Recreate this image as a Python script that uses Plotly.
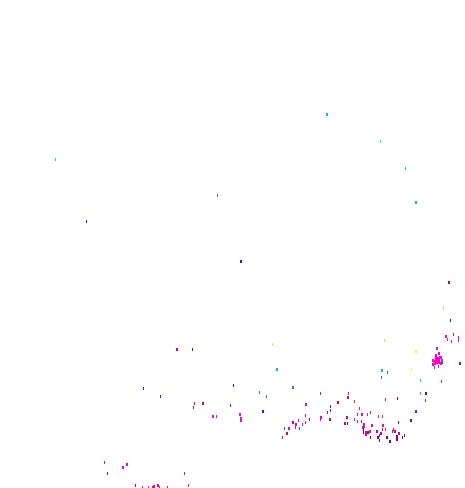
import plotly.graph_objects as go

# marks, grouped by colour: dots are the small blocks,
# ticks the thin upright ones
pink_x = [306, 321, 364, 364, 289, 362, 372, 383, 366, 370, 296, 127, 123, 154, 153, 158, 347]
pink_y = [404, 417, 424, 426, 428, 414, 425, 425, 432, 431, 424, 464, 467, 486, 487, 485, 417]
pink_tick_x = [320.5, 348.5, 354.5, 359.5, 370.5, 357.5, 367.5, 305.5, 320.5, 354.5, 298.5, 357.5, 305.5, 302.5, 385.5, 284.5, 299.5, 382.5, 385.5, 295.5, 282.5, 425.5, 104.5, 184.5, 142.5, 148.5, 159.5, 167.5, 188.5, 362.5]
pink_tick_y = [393, 393, 401, 408, 412, 414, 414, 415, 419, 419, 420, 421, 422, 424, 399, 428, 428, 429, 429, 427, 437, 400, 462, 473, 487, 487, 487, 487, 485, 427]

# the dense knot on the right edge
knot_x = [437, 439, 441, 436, 433, 435, 437, 439, 442, 435, 437, 439, 442, 433, 438, 440, 436, 441]
knot_y = [348, 353, 357, 355, 360, 361, 360, 360, 360, 363, 362, 362, 362, 364, 358, 357, 358, 363]
knot_tick_x = [458.5, 458.5, 453.5, 451.5, 438.5, 434.5]
knot_tick_y = [337, 340, 334, 341, 366, 367]

magenta_x = [446, 241, 241, 213, 240]
magenta_y = [336, 418, 420, 416, 414]
magenta_tick_x = [447.5, 216.5, 378.5, 382.5, 441.5]
magenta_tick_y = [339, 416, 416, 416, 381]

crimson_x = [348, 338, 330, 347, 293, 345, 287, 381, 399, 395, 460, 366, 368]
crimson_y = [397, 402, 419, 417, 422, 423, 433, 433, 433, 431, 363, 434, 432]
crimson_tick_x = [327.5, 309.5, 330.5, 330.5, 361.5, 398.5, 393.5, 392.5, 379.5, 107.5, 135.5]
crimson_tick_y = [412, 419, 406, 410, 421, 422, 429, 431, 435, 473, 485]

dark_x = [411, 387, 378, 390, 397, 397]
dark_y = [420, 437, 437, 441, 436, 439]
dark_tick_x = [363.5, 363.5, 347.5, 404.5, 402.5, 379.5, 370.5]
dark_tick_y = [429, 432, 423, 435, 437, 440, 437]

purple_x = [177, 203, 416, 377]
purple_y = [349, 403, 411, 431]
purple_tick_x = [194.5, 193.5, 230.5]
purple_tick_y = [403, 407, 405]

indigo_x = [241, 426, 263]
indigo_y = [261, 393, 411]
indigo_tick_x = [86.5, 143.5, 160.5, 192.5, 397.5, 233.5, 450.5]
indigo_tick_y = [221, 388, 396, 349, 398, 385, 320]

blue_x = [293]
blue_y = [387]
blue_tick_x = [217.5, 259.5, 266.5, 387.5, 381.5]
blue_tick_y = [195, 392, 396, 372, 377]

azure_x = [327, 277, 382, 416]
azure_y = [114, 369, 370, 202]
azure_tick_x = [405.5, 420.5]
azure_tick_y = [168, 393]

mint_tick_x = [380.5]
mint_tick_y = [141]

green_tick_x = [55.5, 420.5]
green_tick_y = [159, 380]

lime_tick_x = [272.5, 384.5, 443.5]
lime_tick_y = [344, 340, 308]

yellow_x = [416]
yellow_y = [351]
yellow_tick_x = [411.5]
yellow_tick_y = [369]

red_x = [449]
red_y = [282]

fig = go.Figure()


def add_marks(x, y, color, width):
    # line-ns draws 1.4x the size, so 2.14 comes out 3px tall
    fig.add_trace(go.Scatter(x=x, y=y, mode='markers',
                             marker={'symbol': 'line-ns', 'size': 2.14, 'line': {'width': width, 'color': color}}))


add_marks(pink_x, pink_y, '#ff00aa', 2)
add_marks(pink_tick_x, pink_tick_y, '#ff00aa', 1)
add_marks(knot_x, knot_y, '#ff00cc', 2)
add_marks(knot_tick_x, knot_tick_y, '#ff00cc', 1)
add_marks(magenta_x, magenta_y, '#ff00ee', 2)
add_marks(magenta_tick_x, magenta_tick_y, '#ff00ee', 1)
add_marks(crimson_x, crimson_y, '#d4007f', 2)
add_marks(crimson_tick_x, crimson_tick_y, '#d4007f', 1)
add_marks(dark_x, dark_y, '#990055', 2)
add_marks(dark_tick_x, dark_tick_y, '#990055', 1)
add_marks(purple_x, purple_y, '#aa00ff', 2)
add_marks(purple_tick_x, purple_tick_y, '#aa00ff', 1)
add_marks(indigo_x, indigo_y, '#5500ff', 2)
add_marks(indigo_tick_x, indigo_tick_y, '#5500ff', 1)
add_marks(blue_x, blue_y, '#2f70ff', 2)
add_marks(blue_tick_x, blue_tick_y, '#2f70ff', 1)
add_marks(azure_x, azure_y, '#00b4ff', 2)
add_marks(azure_tick_x, azure_tick_y, '#00c8ff', 1)
add_marks(mint_tick_x, mint_tick_y, '#00ffcc', 1)
add_marks(green_tick_x, green_tick_y, '#10e860', 1)
add_marks(lime_tick_x, lime_tick_y, '#bbff22', 1)
add_marks(yellow_x, yellow_y, '#ffff00', 2)
add_marks(yellow_tick_x, yellow_tick_y, '#ffff00', 1)
add_marks(red_x, red_y, '#dd0000', 2)

fig.update_layout(width=465, height=488, showlegend=False,
                  margin={'l': 0, 'r': 0, 't': 0, 'b': 0},
                  paper_bgcolor='white', plot_bgcolor='white')
fig.update_xaxes(visible=False, range=[0, 465])
# half pixel offset keeps the 3px marks on whole pixels
fig.update_yaxes(visible=False, range=[487.5, -0.5])
# the page's default body margin would push the plot 8px in
fig.write_html("out.html", config={'displayModeBar': False},
               post_script="document.body.style.margin='0';")
